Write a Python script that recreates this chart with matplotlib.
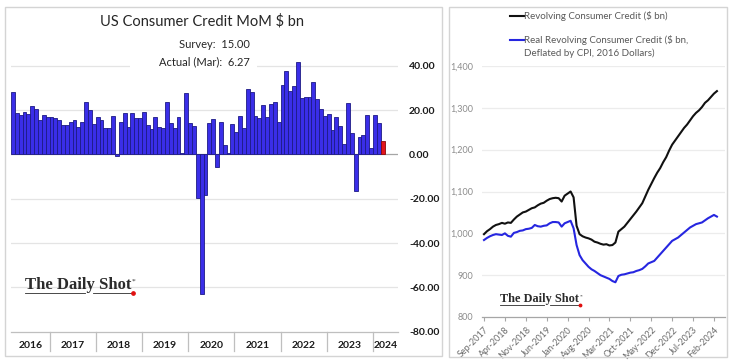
import matplotlib
matplotlib.use("Agg")
import matplotlib.pyplot as plt
from matplotlib.patches import Rectangle
from matplotlib.lines import Line2D
import matplotlib.ticker as mticker

plt.rcParams['font.family'] = ['Lato', 'DejaVu Sans']
plt.rcParams['axes.unicode_minus'] = False

W, H = 730, 360

# ---------------- data ----------------
# Monthly change in US consumer credit ($ bn), Mar 2016 .. Mar 2024
mom_values = [28.2, 18.7, 17.7, 19.2, 18.3, 21.9, 20.4, 15.7, 17.7, 16.9,
              16.8, 16.6, 15.4, 13.3, 13.3, 14.5, 15.7, 12.4, 14.8, 23.7,
              19.9, 13.9, 17.1, 15.4, 12.1, 12.1, 17.5, -0.5, 14.7, 18.6,
              12.3, 18.6, 16.6, 16.6, 19.3, 13.2, 11.7, 16.9, 12.3, 12.0,
              23.7, 14.2, 12.0, 16.9, 0.5, 27.7, 14.4, 12.7, -19.6, -63.0,
              -18.5, 14.4, 16.2, -5.7, 14.7, 4.2, 0.5, 13.9, 10.2, 17.4,
              12.0, 29.5, 28.2, 17.2, 16.6, 22.5, 16.9, 22.6, 23.7, 14.7,
              31.3, 37.6, 28.6, 31.0, 41.7, 25.5, 25.8, 25.8, 32.7, 25.2,
              20.7, 17.4, 18.1, 10.9, 16.9, 12.7, 4.9, 23.4, 9.9, -16.7,
              7.9, 8.7, 17.7, 3.0, 18.0, 14.4, 6.27]
year_labels = ['2016', '2017', '2018', '2019', '2020', '2021', '2022', '2023', '2024']
year_months = [10, 12, 12, 12, 12, 12, 12, 12, 3]  # months of each year in the series
left_yticks = [-80, -60, -40, -20, 0, 20, 40]
survey = 15.00
actual = 6.27

# Revolving consumer credit ($ bn), Sep 2017 .. Mar 2024
revolving = [998, 1005, 1010, 1016, 1020, 1022, 1025, 1023, 1026, 1025,
             1033, 1040, 1045, 1050, 1052, 1056, 1060, 1062, 1067, 1071,
             1073, 1078, 1082, 1084, 1085, 1084, 1076, 1090, 1095, 1100,
             1086, 1018, 998, 993, 990, 988, 985, 980, 978, 975,
             973, 974, 971, 972, 978, 1004, 1010, 1016, 1025, 1034,
             1043, 1052, 1062, 1072, 1088, 1104, 1118, 1132, 1145, 1156,
             1170, 1182, 1198, 1212, 1222, 1232, 1242, 1252, 1260, 1270,
             1280, 1288, 1294, 1302, 1312, 1318, 1326, 1334, 1340]
real_revolving = [984, 989, 993, 996, 998, 997, 996, 1000, 994, 992,
                  1001, 1003, 1006, 1007, 1010, 1011, 1013, 1020, 1017, 1016,
                  1018, 1019, 1024, 1027, 1027, 1026, 1016, 1024, 1027, 1030,
                  1012, 972, 948, 936, 928, 920, 914, 910, 905, 900,
                  897, 894, 891, 886, 883, 898, 901, 902, 904, 906,
                  907, 910, 912, 915, 921, 928, 931, 934, 942, 950,
                  958, 966, 974, 982, 986, 990, 996, 1002, 1008, 1014,
                  1018, 1022, 1024, 1026, 1031, 1036, 1040, 1044, 1040]
right_tick_labels = ['Sep-2017', 'Apr-2018', 'Nov-2018', 'Jun-2019', 'Jan-2020', 'Aug-2020',
                     'Mar-2021', 'Oct-2021', 'May-2022', 'Dec-2022', 'Jul-2023', 'Feb-2024']
right_yticks = [800, 900, 1000, 1100, 1200, 1300, 1400]


def px_rect(x0, y0, x1, y1):
    return [x0 / W, 1 - y1 / H, (x1 - x0) / W, (y1 - y0) / H]


def fx(x):
    return x / W


def fy(y):
    return 1 - y / H


fig = plt.figure(figsize=(W / 100, H / 100), dpi=100)
fig.patch.set_facecolor('white')

# panel frames
for (x0, y0, x1, y1) in [(5, 7, 442, 356), (449, 7, 727, 357)]:
    fig.patches.append(Rectangle((fx(x0), fy(y1)), fx(x1) - fx(x0), fy(y0) - fy(y1),
                                 transform=fig.transFigure, facecolor='none',
                                 edgecolor='#d4d4d4', lw=1.0, zorder=0))

# ---------------- left chart ----------------
axL = fig.add_axes(px_rect(11, 54.8, 398, 331.7))
n = len(mom_values)
xs = list(range(n))
colors = ['#3a2ee8'] * (n - 1) + ['#e3141c']
edges = ['#1d1a85'] * (n - 1) + ['#8a0a0a']
axL.bar(xs, mom_values, width=1.0, color=colors, edgecolor=edges, linewidth=0.6, zorder=3)
axL.set_xlim(-0.5, 100.0)
axL.set_ylim(-80, 45)
axL.set_yticks(left_yticks)
axL.yaxis.set_major_formatter(mticker.FuncFormatter(lambda v, p: f"{v:.2f}"))
axL.yaxis.tick_right()
axL.tick_params(axis='y', length=0, pad=8, labelsize=7.5, labelcolor='#1a1a1a')
for lab in axL.get_yticklabels():
    lab.set_fontweight('bold')
axL.set_xticks([])
for g in left_yticks:
    if g not in (0, -80):
        axL.axhline(g, color='#e4e4e4', lw=0.9, zorder=1)
axL.axhline(0, color='#a6a6a6', lw=0.9, zorder=2)
for s in ['top', 'left', 'right']:
    axL.spines[s].set_visible(False)
axL.spines['bottom'].set_color('#bfbfbf')
axL.spines['bottom'].set_linewidth(0.9)

# year labels and separators
start = -0.5
bounds = []
for yl, m in zip(year_labels, year_months):
    end = start + m
    bounds.append((start, end))
    start = end
for i, (yl, (b0, b1)) in enumerate(zip(year_labels, bounds)):
    if i == len(year_labels) - 1:
        b1 = 100.0
    axL.text((b0 + b1) / 2, -0.035, yl, transform=axL.get_xaxis_transform(),
             ha='center', va='top', fontsize=7.5, fontweight='bold', color='#1a1a1a')
    if i > 0:
        axL.plot([b0, b0], [0, -0.068], transform=axL.get_xaxis_transform(),
                 color='#bfbfbf', lw=0.9, clip_on=False)

# title and survey box
fig.text(fx(202), fy(21), 'US Consumer Credit MoM $ bn', ha='center', va='center',
         fontsize=10.5, color='#262626')
fig.patches.append(Rectangle((fx(130), fy(72)), fx(257) - fx(130), fy(35) - fy(72),
                             transform=fig.transFigure, facecolor='white',
                             edgecolor='none', zorder=1))
fig.text(fx(250), fy(45), f'Survey:  {survey:.2f}', ha='right', va='center',
         fontsize=8, color='#262626', zorder=3)
fig.text(fx(250), fy(62), f'Actual (Mar):  {actual:.2f}', ha='right', va='center',
         fontsize=8, color='#262626', zorder=3)

renderer = fig.canvas.get_renderer()


def logo(x, y_base, size):
    t = fig.text(fx(x), fy(y_base), 'The Daily Shot', ha='left', va='baseline',
                 fontsize=size, fontweight='bold', family=['Liberation Serif', 'DejaVu Serif'],
                 color='#2b2b2b', zorder=3)
    bb = t.get_window_extent(renderer=renderer)
    x1 = bb.x1  # pixels from left
    wpx = x1 - x
    fig.text(fx(x1 + 0.5), fy(y_base - size * 0.5), '*', ha='left', va='baseline',
             fontsize=size * 0.45, family=['Liberation Serif', 'DejaVu Serif'],
             color='#2b2b2b', zorder=3)
    uy = y_base + size * 0.33
    fig.add_artist(Line2D([fx(x), fx(x + wpx * 0.56)], [fy(uy), fy(uy)],
                          color='#2b2b2b', lw=0.6))
    fig.add_artist(Line2D([fx(x + wpx * 0.64), fx(x1)], [fy(uy), fy(uy)],
                          color='#2b2b2b', lw=0.6))
    fig.add_artist(Line2D([fx(x1 + 1.5)], [fy(uy)], marker='o', markersize=size * 0.2,
                          color='#e01010', lw=0))


logo(25, 289, 12)

# ---------------- right chart ----------------
axR = fig.add_axes(px_rect(482, 66, 725, 317))
mx = list(range(len(revolving)))
axR.plot(mx, revolving, color='#111111', lw=1.5, zorder=3)
axR.plot(mx, real_revolving, color='#2626e0', lw=1.5, zorder=3)
axR.set_xlim(-0.67, 80.7)
axR.set_ylim(800, 1400)
axR.set_yticks(right_yticks)
axR.yaxis.set_major_formatter(mticker.FuncFormatter(lambda v, p: f"{int(v):,}"))
axR.tick_params(axis='y', length=0, pad=6, labelsize=6.5, labelcolor='#8c8c8c')
tick_pos = [7 * i for i in range(len(right_tick_labels))]
axR.set_xticks(tick_pos)
axR.set_xticklabels(right_tick_labels, rotation=45, ha='right', rotation_mode='anchor',
                    fontsize=6.5, color='#6b6b6b')
axR.tick_params(axis='x', length=3, width=0.8, color='#a6a6a6', pad=3)
for g in right_yticks[1:]:
    axR.axhline(g, color='#ececec', lw=0.9, zorder=1)
for s in ['top', 'left', 'right']:
    axR.spines[s].set_visible(False)
axR.spines['bottom'].set_color('#a6a6a6')
axR.spines['bottom'].set_linewidth(0.9)

# legend
fig.add_artist(Line2D([fx(510), fx(524)], [fy(16), fy(16)], color='#111111', lw=1.5))
fig.text(fx(524.5), fy(16), 'Revolving Consumer Credit ($ bn)', ha='left', va='center',
         fontsize=7, color='#595959')
fig.add_artist(Line2D([fx(510), fx(524)], [fy(40), fy(40)], color='#2626e0', lw=1.5))
fig.text(fx(524.5), fy(40), 'Real Revolving Consumer Credit ($ bn,', ha='left', va='center',
         fontsize=7, color='#595959')
fig.text(fx(524.5), fy(53), 'Deflated by CPI, 2016 Dollars)', ha='left', va='center',
         fontsize=7, color='#595959')

logo(500, 302, 8.8)

fig.savefig('out.png', dpi=100, facecolor='white')
